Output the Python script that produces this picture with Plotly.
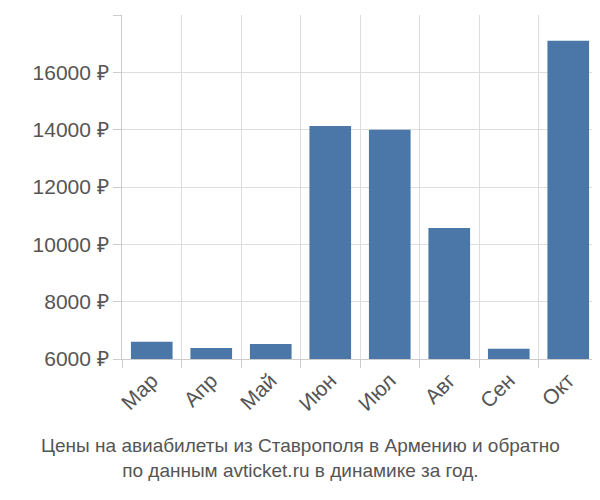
import plotly.graph_objects as go

months = ["Мар", "Апр", "Май", "Июн", "Июл", "Авг", "Сен", "Окт"]
prices = [6600, 6380, 6520, 14130, 14000, 10570, 6360, 17100]
yticks = [6000, 8000, 10000, 12000, 14000, 16000, 18000]
ytick_text = [f"{v} ₽" for v in yticks]

fig = go.Figure(go.Bar(x=months, y=prices, marker_color="#4a76a8", width=0.7,
                       marker_line_width=0))
fig.update_layout(
    width=590, height=490, plot_bgcolor="white", paper_bgcolor="white",
    margin=dict(l=114, r=0, t=7, b=139), showlegend=False,
    font=dict(family="Liberation Sans, Arial", size=20, color="#555"),
    xaxis=dict(tickson="boundaries", showgrid=True, gridcolor="#ddd", tickangle=-45,
               ticks="outside", ticklen=8, tickcolor="#ccc", showline=True, linecolor="#ccc",
               tickfont=dict(size=21)),
    yaxis=dict(range=[6000, 18000], tickvals=yticks, ticktext=ytick_text, showgrid=True,
               gridcolor="#ddd", showline=True, linecolor="#ccc", ticks="outside",
               ticklen=8, tickcolor="#ccc", tickfont=dict(size=21)),
    annotations=[dict(text="Цены на авиабилеты из Ставрополя в Армению и обратно<br>по данным avticket.ru в динамике за год.",
                      xref="paper", yref="paper", x=0.5, xanchor="center", y=-0.215, yanchor="top",
                      xshift=-60, showarrow=False, font=dict(size=19, color="#555"))],
)
fig.write_html("out.html")
